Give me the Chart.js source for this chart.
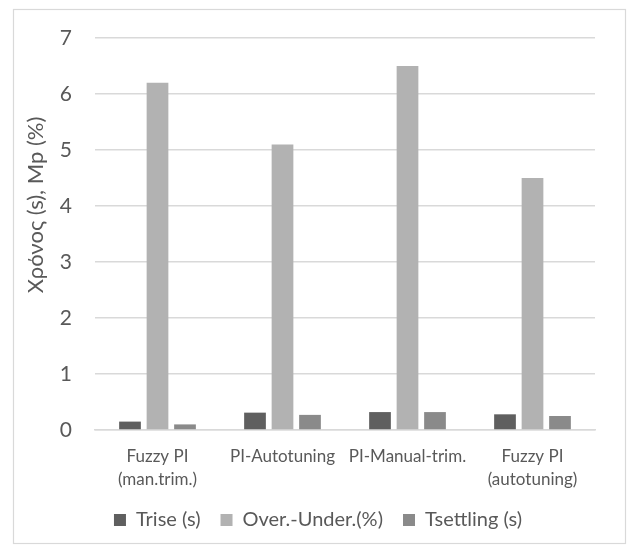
<!DOCTYPE html>
<html>
<head>
<meta charset="utf-8">
<script src="https://cdn.jsdelivr.net/npm/chart.js@4"></script>
<style>
  html, body { margin: 0; padding: 0; background: #ffffff; }
  #wrap { width: 630px; height: 546px; }
</style>
</head>
<body>
<div id="wrap"><canvas id="c" width="630" height="546"></canvas></div>
<script>
// Controller comparison: rise time, overshoot/undershoot and settling time
const categories = [
  ['Fuzzy PI', '(man.trim.)'],
  'PI-Autotuning',
  'PI-Manual-trim.',
  ['Fuzzy PI', '(autotuning)']
];
const riseTime = [0.15, 0.31, 0.32, 0.28];
const overUnder = [6.2, 5.1, 6.5, 4.5];
const settlingTime = [0.10, 0.27, 0.32, 0.25];
const seriesNames = ['Trise (s)', 'Over.-Under.(%)', 'Tsettling (s)'];
const yTicks = [0, 1, 2, 3, 4, 5, 6, 7];
const yTitle = 'Χρόνος (s), Mp (%)';

const FONT = 'Lato, "Open Sans", sans-serif';
const TEXT = '#595959';
const GRID = '#d9d9d9';

// white background, outer frame and rotated axis title
const framePlugin = {
  id: 'frame',
  beforeDraw(chart) {
    const ctx = chart.ctx;
    ctx.save();
    ctx.fillStyle = '#ffffff';
    ctx.fillRect(0, 0, chart.width, chart.height);
    ctx.strokeStyle = GRID;
    ctx.lineWidth = 1.2;
    ctx.strokeRect(13.5, 9.5, 612, 534);
    ctx.restore();
  },
  afterDraw(chart) {
    const ctx = chart.ctx;
    ctx.save();
    ctx.translate(36, 205);
    ctx.rotate(-Math.PI / 2);
    ctx.fillStyle = TEXT;
    ctx.font = '22px ' + FONT;
    ctx.textAlign = 'center';
    ctx.textBaseline = 'middle';
    ctx.fillText(yTitle, 0, 0);
    ctx.restore();
  },
  afterLayout(chart) {
    // nudge the legend row to the right
    if (chart.legend) {
      chart.legend.left += 14;
      chart.legend.right += 14;
    }
  }
};

new Chart(document.getElementById('c'), {
  type: 'bar',
  data: {
    labels: categories,
    datasets: [
      { label: seriesNames[0], data: riseTime, backgroundColor: '#5f5f5f' },
      { label: seriesNames[1], data: overUnder, backgroundColor: '#b2b2b2' },
      { label: seriesNames[2], data: settlingTime, backgroundColor: '#8a8a8a' }
    ]
  },
  options: {
    responsive: false,
    animation: false,
    devicePixelRatio: 1,
    categoryPercentage: 0.66,
    barPercentage: 0.79,
    layout: { padding: { left: 13, right: 35, top: 38, bottom: 6 } },
    plugins: {
      tooltip: { enabled: false },
      legend: {
        position: 'bottom',
        labels: {
          color: TEXT,
          font: { family: FONT, size: 20 },
          boxWidth: 12,
          boxHeight: 12,
          padding: 20
        }
      }
    },
    scales: {
      x: {
        grid: { display: false, drawTicks: false },
        border: { display: true, color: GRID, width: 1.5 },
        ticks: {
          color: TEXT,
          font: { family: FONT, size: 17, lineHeight: 1.35 },
          padding: 15,
          maxRotation: 0,
          autoSkip: false
        },
        afterFit(scale) { scale.height = 60; }
      },
      y: {
        min: yTicks[0],
        max: yTicks[yTicks.length - 1],
        afterBuildTicks(scale) { scale.ticks = yTicks.map(v => ({ value: v })); },
        grid: { color: GRID, lineWidth: 1.5, drawTicks: false },
        border: { display: false },
        ticks: {
          color: TEXT,
          font: { family: FONT, size: 21 },
          padding: 23
        },
        afterFit(scale) { scale.width = 82; }
      }
    }
  },
  plugins: [framePlugin]
});
</script>
</body>
</html>
